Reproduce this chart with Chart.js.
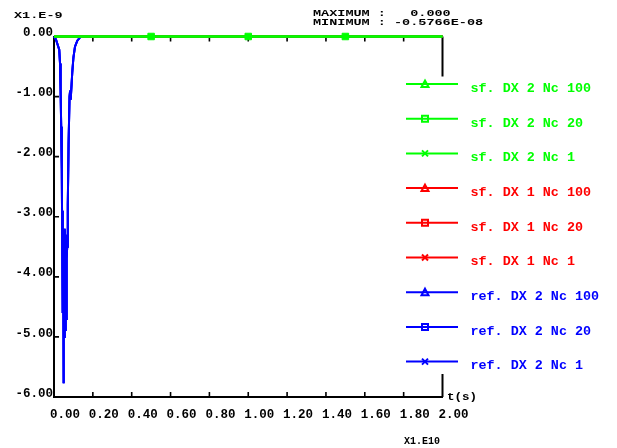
<!DOCTYPE html>
<html><head><meta charset="utf-8">
<script src="https://cdn.jsdelivr.net/npm/chart.js@4/dist/chart.umd.min.js"></script>
<style>html,body{margin:0;padding:0;background:#fff}#wrap{width:617px;height:448px}</style>
</head><body><div id="wrap"><canvas id="c" width="617" height="448"></canvas></div>
<script>
// ---- data ----
const seriesNames = ['sf. DX 2 Nc 100','sf. DX 2 Nc 20','sf. DX 2 Nc 1',
                     'sf. DX 1 Nc 100','sf. DX 1 Nc 20','sf. DX 1 Nc 1',
                     'ref. DX 2 Nc 100','ref. DX 2 Nc 20','ref. DX 2 Nc 1'];
const seriesColors = ['#00ff00','#00ff00','#00ff00','#ff0000','#ff0000','#ff0000','#0000ff','#0000ff','#0000ff'];
const seriesMarkers = ['triangle','square','cross','triangle','square','cross','triangle','square','cross'];
const xTickValues = [0,0.2,0.4,0.6,0.8,1.0,1.2,1.4,1.6,1.8,2.0];
const yTickValues = [0,-1,-2,-3,-4,-5,-6];
const xScaleText = 'X1.E10';
const yScaleText = 'X1.E-9';
const xAxisTitle = 't(s)';
const maxMinText = ['MAXIMUM :   0.000','MINIMUM : -0.5766E-08'];
// sf. DX 2 (all three Nc): flat at zero
const sfDx2Time  = [0, 0.5, 1.0, 1.5, 2.0];
const sfDx2Value = [0, 0, 0, 0, 0];
const sfDx2MarkerTime = [0.5, 1.0, 1.5];
// sf. DX 1 (all three Nc): flat at zero (hidden under green)
const sfDx1Time  = [0, 2.0];
const sfDx1Value = [0, 0];
// ref. DX 2 (units: t x1e10 s, value x1e-9)
const refTime  = [0, 0.010, 0.020, 0.027, 0.031, 0.034, 0.037, 0.040, 0.042, 0.043, 0.045, 0.046, 0.047, 0.048, 0.050,
                  0.051, 0.053, 0.055, 0.057, 0.059, 0.061, 0.063, 0.065, 0.068, 0.071, 0.075, 0.080, 0.083, 0.086,
                  0.089, 0.094, 0.100, 0.108, 0.120, 0.135, 0.145, 2.0];
const refValue = [0, -0.05, -0.15, -0.22, -0.45, -0.9, -1.5, -2.2, -3.2, -2.9, -3.5, -4.6, -3.2, -5.1, -5.77,
                  -4.5, -5.0, -3.2, -3.3, -4.9, -3.9, -4.7, -3.7, -3.5, -2.8, -1.8, -1.0, -0.9, -1.05,
                  -0.88, -0.6, -0.35, -0.17, -0.07, -0.01, 0, 0];

// ---- build ----
const pts = (t, v) => t.map((x, i) => ({x: x, y: v[i]}));
const FONT = 'Liberation Mono, Courier New, monospace';

function lineDs(i, t, v, markers) {
  return {
    label: seriesNames[i], data: pts(t, v), showLine: true, clip: false,
    borderColor: seriesColors[i], backgroundColor: seriesColors[i], borderWidth: 2,
    pointStyle: 'rect',
    pointRadius: c => (markers && c.raw && markers.includes(c.raw.x)) ? 4.6 : 0,
    pointBorderWidth: 1, pointHoverRadius: 0, tension: 0
  };
}
const datasets = [
  lineDs(0, sfDx2Time, sfDx2Value, null),
  lineDs(1, sfDx2Time, sfDx2Value, sfDx2MarkerTime),
  lineDs(2, sfDx2Time, sfDx2Value, null),
  lineDs(3, sfDx1Time, sfDx1Value, null),
  lineDs(4, sfDx1Time, sfDx1Value, null),
  lineDs(5, sfDx1Time, sfDx1Value, null),
  lineDs(6, refTime, refValue, null),
  lineDs(7, refTime, refValue, null),
  lineDs(8, refTime, refValue, null)
];

function stretchText(ctx, text, x, y, size, sx, color) {
  ctx.save();
  ctx.font = 'bold ' + size + 'px ' + FONT;
  ctx.fillStyle = color;
  ctx.textAlign = 'left';
  ctx.textBaseline = 'alphabetic';
  ctx.translate(x, y);
  ctx.scale(sx, 1);
  ctx.fillText(text, 0, 0);
  ctx.restore();
}

function drawMarker(ctx, type, x, y, color) {
  ctx.save();
  ctx.strokeStyle = color; ctx.fillStyle = color; ctx.lineWidth = 2;
  ctx.beginPath();
  if (type === 'triangle') {
    ctx.moveTo(x, y - 3.5); ctx.lineTo(x + 3.5, y + 3); ctx.lineTo(x - 3.5, y + 3); ctx.closePath();
    ctx.stroke();
  } else if (type === 'square') {
    ctx.rect(x - 3, y - 3, 6, 6); ctx.stroke();
  } else {
    ctx.moveTo(x - 3, y - 3); ctx.lineTo(x + 3, y + 3);
    ctx.moveTo(x + 3, y - 3); ctx.lineTo(x - 3, y + 3); ctx.stroke();
  }
  ctx.restore();
}

const framePlugin = {
  id: 'frame',
  beforeDatasetsDraw(chart) {
    const ctx = chart.ctx, xs = chart.scales.x, ys = chart.scales.y, a = chart.chartArea;
    ctx.save();
    ctx.strokeStyle = '#000'; ctx.lineWidth = 1.6;
    ctx.beginPath();
    xTickValues.forEach(v => {
      if (v === xTickValues[0] || v === xTickValues[xTickValues.length - 1]) return;
      const px = xs.getPixelForValue(v);
      ctx.moveTo(px, a.bottom); ctx.lineTo(px, a.bottom - 5);
      ctx.moveTo(px, a.top); ctx.lineTo(px, a.top + 5);
    });
    yTickValues.forEach(v => {
      const py = ys.getPixelForValue(v);
      ctx.moveTo(a.left, py); ctx.lineTo(a.left + 5, py);
    });
    ctx.stroke();
    // top and right frame (right broken by legend)
    ctx.lineWidth = 2;
    ctx.beginPath();
    ctx.moveTo(a.left, a.top); ctx.lineTo(a.right, a.top);
    ctx.moveTo(a.right, a.top); ctx.lineTo(a.right, a.top + 40);
    ctx.moveTo(a.right, a.bottom - 23); ctx.lineTo(a.right, a.bottom);
    ctx.stroke();
    ctx.restore();
  },
  afterDraw(chart) {
    const ctx = chart.ctx, a = chart.chartArea;
    // header texts
    stretchText(ctx, yScaleText, 14, 17.7, 9, 1.5, '#000');
    stretchText(ctx, maxMinText[0], 313, 15.8, 9, 1.5, '#000');
    stretchText(ctx, maxMinText[1], 313, 24.6, 9, 1.5, '#000');
    stretchText(ctx, xAxisTitle, a.right + 4.5, a.bottom + 2.5, 10, 1.25, '#000');
    stretchText(ctx, xScaleText, 404, 443.5, 10, 1.0, '#000');
    // legend
    const y0 = 84, dy = 34.7;
    seriesNames.forEach((name, i) => {
      const y = y0 + i * dy, c = seriesColors[i];
      ctx.save();
      ctx.strokeStyle = c; ctx.lineWidth = 2;
      ctx.beginPath(); ctx.moveTo(406, y); ctx.lineTo(458, y); ctx.stroke();
      ctx.restore();
      drawMarker(ctx, seriesMarkers[i], 425, y, c);
      ctx.save();
      ctx.font = 'bold 13.4px ' + FONT;
      ctx.fillStyle = c; ctx.textAlign = 'left'; ctx.textBaseline = 'middle';
      ctx.fillText(name, 470.5, y + 4.5);
      ctx.restore();
    });
  }
};

new Chart(document.getElementById('c'), {
  type: 'scatter',
  data: { datasets: datasets },
  options: {
    responsive: false, animation: false, events: [],
    layout: { padding: { left: 0, top: 36.5, right: 174.5, bottom: 0 } },
    plugins: { legend: { display: false }, tooltip: { enabled: false } },
    scales: {
      x: {
        type: 'linear', position: 'bottom', min: 0, max: 2,
        afterBuildTicks: s => { s.ticks = xTickValues.map(v => ({ value: v })); },
        afterFit: s => { s.height = 51; },
        grid: { display: false, drawTicks: false },
        border: { display: true, color: '#000', width: 2 },
        ticks: { autoSkip: false, maxRotation: 0, padding: 10.8, labelOffset: 11, color: '#000',
                 font: { family: FONT, size: 12.5, weight: 'bold' },
                 callback: v => Number(v).toFixed(2) }
      },
      y: {
        type: 'linear', position: 'left', min: -6, max: 0,
        afterBuildTicks: s => { s.ticks = yTickValues.map(v => ({ value: v })); },
        afterFit: s => { s.width = 54; },
        grid: { display: false, drawTicks: false },
        border: { display: true, color: '#000', width: 2 },
        ticks: { autoSkip: false, padding: 1, labelOffset: -3.5, color: '#000',
                 font: { family: FONT, size: 12.5, weight: 'bold' },
                 callback: v => Number(v).toFixed(2) }
      }
    }
  },
  plugins: [framePlugin]
});
</script></body></html>
